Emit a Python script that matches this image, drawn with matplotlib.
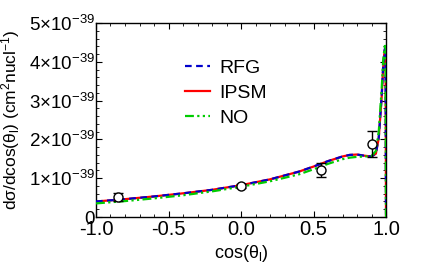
import matplotlib
matplotlib.use('Agg')
import matplotlib.pyplot as plt
from matplotlib.ticker import MultipleLocator, FuncFormatter

plt.rcParams.update({
    'font.family': ['Liberation Sans', 'DejaVu Sans'],
    'mathtext.fontset': 'custom',
    'mathtext.rm': 'Liberation Sans',
    'mathtext.it': 'Liberation Sans:italic',
    'font.size': 13,
})

# curves, in units of 1e-39 cm^2/nucleon
cos_th = [-1.0, -0.8, -0.6, -0.4, -0.2, 0.0, 0.2, 0.4, 0.5, 0.6, 0.7, 0.75,
          0.8, 0.85, 0.9, 0.93, 0.95, 0.97, 0.98, 0.99, 0.997, 1.0]
rfg = [0.40, 0.46, 0.53, 0.61, 0.70, 0.82, 0.97, 1.17, 1.30, 1.44, 1.56, 1.60,
       1.61, 1.58, 1.56, 1.64, 2.05, 3.10, 3.85, 4.30, 4.40, 0.0]
ipsm = [0.40, 0.46, 0.53, 0.61, 0.70, 0.82, 0.97, 1.17, 1.30, 1.44, 1.56, 1.60,
        1.61, 1.58, 1.56, 1.63, 2.03, 3.08, 3.83, 4.28, 4.38, 0.0]
no = [0.35, 0.41, 0.48, 0.56, 0.66, 0.78, 0.92, 1.10, 1.23, 1.37, 1.49, 1.53,
      1.55, 1.56, 1.57, 1.70, 2.20, 3.30, 4.00, 4.38, 4.47, 0.0]

# data points
data_x = [-0.85, 0.0, 0.55, 0.9]
data_y = [0.52, 0.80, 1.21, 1.88]
data_err = [0.10, 0.05, 0.17, 0.33]

fig = plt.figure(figsize=(4.32, 2.68), dpi=100)
ax = fig.add_axes([96 / 432, 1 - 217 / 268, 290 / 432, 194 / 268])

ax.plot(cos_th, ipsm, color='#ff0000', lw=1.6, label='IPSM', zorder=2)
ax.plot(cos_th, rfg, color='#0000cc', lw=1.6, ls=(0, (3, 2)), label='RFG', zorder=3)
ax.plot(cos_th, no, color='#00cc00', lw=1.6, ls=(0, (4, 1.5, 1, 1.5, 1, 1.5)), label='NO', zorder=4)

ax.errorbar(data_x, data_y, yerr=data_err, fmt='o', ms=6.5, mfc='white', mec='black',
            ecolor='black', elinewidth=1, capsize=3.5, mew=1, zorder=5)

ax.set_xlim(-1.0, 1.0)
ax.set_ylim(0, 5)
ax.xaxis.set_major_locator(MultipleLocator(0.5))
ax.xaxis.set_minor_locator(MultipleLocator(0.1))
ax.yaxis.set_major_locator(MultipleLocator(1))
ax.yaxis.set_minor_locator(MultipleLocator(0.2))
ax.xaxis.set_major_formatter(FuncFormatter(lambda v, p: f'{v:.1f}'))
ax.yaxis.set_major_formatter(FuncFormatter(
    lambda v, p: '0' if v == 0 else r'$%d{\times}10^{-39}$' % round(v)))
ax.tick_params(axis='x', which='both', labelsize=14.5, pad=2)
ax.tick_params(axis='y', which='both', labelsize=13.5, pad=1)
ax.tick_params(which='both', direction='in', top=True, right=True)
ax.tick_params(which='major', length=4)
ax.tick_params(which='minor', length=2)
for s in ax.spines.values():
    s.set_linewidth(1.0)

ax.set_xlabel(r'cos($\mathrm{\theta_l}$)', fontsize=13, labelpad=3)
ax.set_ylabel(r'd$\mathrm{\sigma}$/dcos($\mathrm{\theta_l}$) (cm$^2$nucl$^{-1}$)',
              fontsize=12.5)
ax.yaxis.set_label_coords(-0.255, 0.5)

h, l = ax.get_legend_handles_labels()
order = [1, 0, 2]
ax.legend([h[i] for i in order], [l[i] for i in order], loc='upper left',
          bbox_to_anchor=(0.245, 0.905), frameon=False, handlelength=1.3,
          handletextpad=0.5, labelspacing=0.38, fontsize=14)

fig.savefig('out.png', dpi=100)
